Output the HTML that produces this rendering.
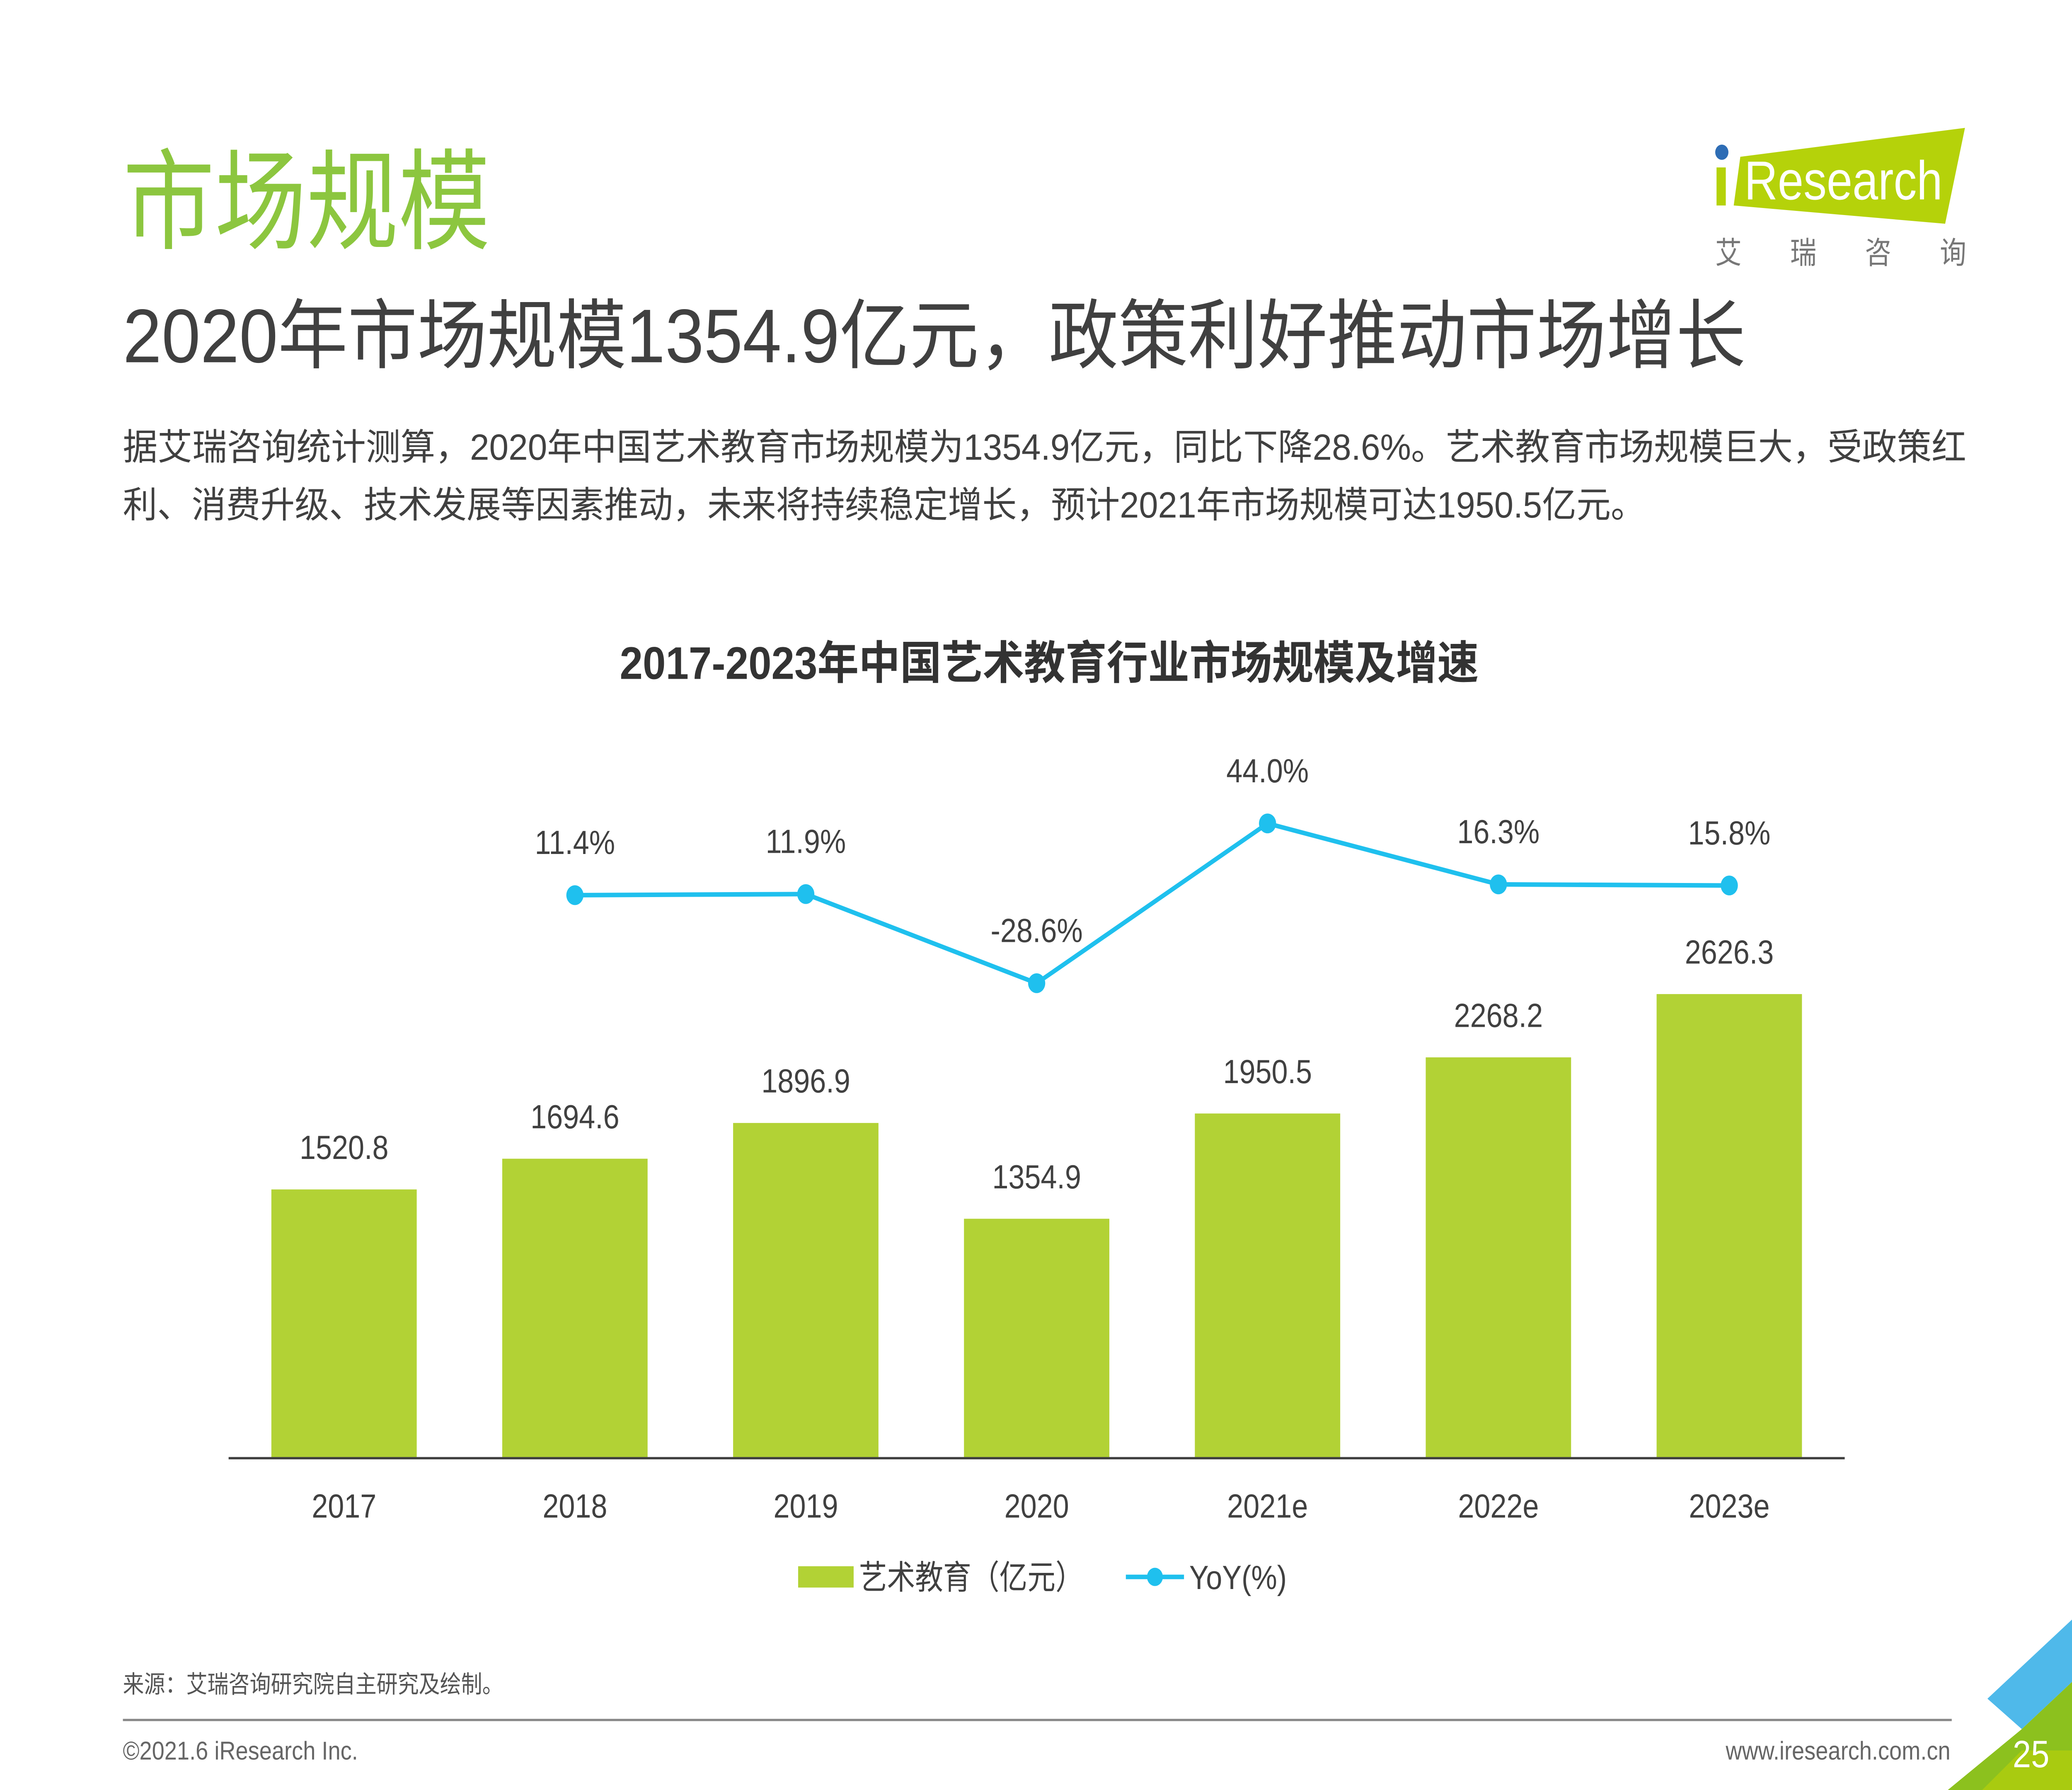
<!DOCTYPE html>
<html><head><meta charset="utf-8">
<style>
html,body{margin:0;padding:0;background:#fff;width:100%;height:100%;overflow:hidden;}
svg{display:block;position:fixed;left:0;top:0;width:100vw;height:100vh;}
text{font-family:"Liberation Sans","Noto Sans CJK SC",sans-serif;}
</style></head>
<body>
<svg id="chart" viewBox="0 0 1568 1176" preserveAspectRatio="none" xmlns="http://www.w3.org/2000/svg">
<rect width="1568" height="1176" fill="#fff"/>
<text x="93" y="158" font-size="72" fill="#8cc63f" textLength="278" lengthAdjust="spacingAndGlyphs">市场规模</text>
<text x="93" y="238" font-size="50" fill="#404040" textLength="1228" lengthAdjust="spacingAndGlyphs">2020年市场规模1354.9亿元，政策利好推动市场增长</text>
<text x="93" y="302" font-size="24" fill="#404040" textLength="1395" lengthAdjust="spacingAndGlyphs">据艾瑞咨询统计测算，2020年中国艺术教育市场规模为1354.9亿元，同比下降28.6%。艺术教育市场规模巨大，受政策红</text>
<text x="93" y="340" font-size="24" fill="#404040" textLength="1152" lengthAdjust="spacingAndGlyphs">利、消费升级、技术发展等因素推动，未来将持续稳定增长，预计2021年市场规模可达1950.5亿元。</text>

<g>
<polygon points="1317,103 1487,84 1472,147 1312,135" fill="#b5d20a"/>
<circle cx="1303" cy="100" r="5" fill="#2e6db5"/>
<rect x="1299" y="110" width="7" height="25" fill="#b5d20a"/>
<text x="1320" y="131" font-size="36" fill="#fff" textLength="150" lengthAdjust="spacingAndGlyphs">Research</text>
<text x="1298" y="173" font-size="20" fill="#777" textLength="190">艾瑞咨询</text>
</g>

<text x="794" y="446" font-size="30" font-weight="bold" fill="#333" text-anchor="middle" textLength="650" lengthAdjust="spacingAndGlyphs">2017-2023年中国艺术教育行业市场规模及增速</text>

<g id="plot"></g>

<g>
<rect x="604" y="1029" width="42" height="14" fill="#b2d235"/>
<text x="650" y="1044" font-size="22" fill="#404040" textLength="170" lengthAdjust="spacingAndGlyphs">艺术教育（亿元）</text>
<line x1="852" y1="1036" x2="896" y2="1036" stroke="#1fc0ee" stroke-width="3"/>
<circle cx="874" cy="1036" r="6" fill="#1fc0ee"/>
<text x="900" y="1044" font-size="22" fill="#404040">YoY(%)</text>
</g>

<text x="93" y="1112" font-size="16" fill="#555">来源：艾瑞咨询研究院自主研究及绘制。</text>
<line x1="93" y1="1130" x2="1477" y2="1130" stroke="#888" stroke-width="1.5"/>
<text x="93" y="1156" font-size="17" fill="#666">©2021.6 iResearch Inc.</text>
<text x="1476" y="1156" font-size="17" fill="#666" text-anchor="end">www.iresearch.com.cn</text>
<g>
<polygon points="1504,1116 1568,1064 1568,1105 1530,1136" fill="#4fb9ea"/>
<polygon points="1474,1176 1530,1136 1568,1105 1568,1176" fill="#8cc11e"/>
<polygon points="1500,1176 1530,1150 1568,1150 1568,1176" fill="#b5cf0a" opacity="0.7"/>
</g>
<text x="1537" y="1161" font-size="25" fill="#fff" text-anchor="middle">25</text>
</svg>
<script>
const categories = ["2017","2018","2019","2020","2021e","2022e","2023e"];
const marketSize = [1520.8,1694.6,1896.9,1354.9,1950.5,2268.2,2626.3];
const yoyValues = [null,11.4,11.9,-28.6,44.0,16.3,15.8];
const yoyLabels = ["","11.4%","11.9%","-28.6%","44.0%","16.3%","15.8%"];

const NS="http://www.w3.org/2000/svg";
const plot=document.getElementById('plot');
const baseY=958, x0=173, x1=1396, barW=110;
const step=(x1-x0)/categories.length;
function xPos(i){return x0+step*(i+0.5);}
function yBar(v){return baseY - v*0.1161;}
function yLine(v){return 604.6 - v*1.446;}
function mk(tag,attrs){const e=document.createElementNS(NS,tag);for(const k in attrs)e.setAttribute(k,attrs[k]);plot.appendChild(e);return e;}

categories.forEach((c,i)=>{
  const top=yBar(marketSize[i]);
  const r=mk('rect',{x:xPos(i)-barW/2,y:top,width:barW,height:baseY-top,fill:'#b2d235'});
  
  
  const t=mk('text',{x:xPos(i),y:top-20,'font-size':22,fill:'#404040','text-anchor':'middle'});
  t.textContent=marketSize[i].toFixed(1);
  
  
  const xl=mk('text',{x:xPos(i),y:997,'font-size':22,fill:'#404040','text-anchor':'middle'});
  xl.textContent=c;
  
  
});
const axis=mk('line',{x1:x0,y1:baseY,x2:x1,y2:baseY,stroke:'#404040','stroke-width':1.5});



let d='';
yoyValues.forEach((v,i)=>{if(v===null)return;d+=(d?'L':'M')+xPos(i)+','+yLine(v);});
const pl=mk('path',{d:d,fill:'none',stroke:'#1fc0ee','stroke-width':3});


yoyValues.forEach((v,i)=>{
  if(v===null)return;
  const c=mk('circle',{cx:xPos(i),cy:yLine(v),r:6.5,fill:'#1fc0ee'});
  
  
  const t=mk('text',{x:xPos(i),y:yLine(v)-27,'font-size':22,fill:'#404040','text-anchor':'middle'});
  t.textContent=yoyLabels[i];
  
  
});
</script>
</body></html>
